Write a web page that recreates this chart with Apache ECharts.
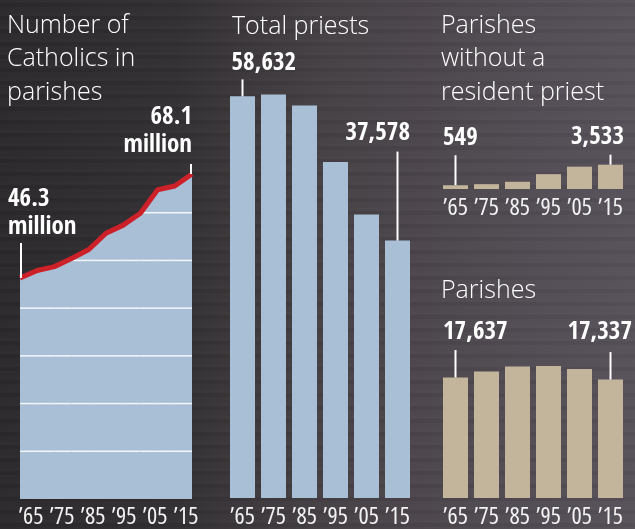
<!DOCTYPE html>
<html>
<head>
<meta charset="utf-8">
<script src="https://cdn.jsdelivr.net/npm/echarts@6.0.0/dist/echarts.min.js"></script>
<style>
  html, body {
    margin: 0;
    padding: 0;
  }
  body {
    background:
      repeating-linear-gradient(180deg, rgba(255, 255, 255, 0.02) 0 3px, rgba(0, 0, 0, 0.04) 3px 7px, rgba(255, 255, 255, 0.012) 7px 13px),
      linear-gradient(90deg, #2c292c 0%, #333033 28%, #464145 52%, #4f4950 75%, #57515a 100%);
  }
  #chart {
    width: 635px;
    height: 529px;
  }
</style>
</head>
<body>
<div id="chart"></div>
<script>
const catholicYears = ['\u201965', '\u201970', '\u201975', '\u201980', '\u201985', '\u201990', '\u201995', '\u201900', '\u201905', '\u201910', '\u201915']
const catholics = [46.3, 47.9, 48.7, 50.4, 52.3, 55.7, 57.4, 59.9, 64.8, 65.6, 68.1]
const gridLevels = [10, 20, 30, 40, 50, 60]

const barYears = ['\u201965', '\u201975', '\u201985', '\u201995', '\u201905', '\u201915']
const priests = [58632, 58909, 57317, 49054, 41399, 37578]
const noPriest = [549, 702, 1051, 2161, 3251, 3533]
const parishes = [17637, 18515, 19244, 19331, 18891, 17337]

const BLUE = '#a9bfd6'
const TAN = '#c3b59b'
const RED = '#cc2129'
const NARROW = '"Open Sans Condensed", "Open Sans", "DejaVu Sans Condensed", sans-serif'
const TITLE_FONT = '"Open Sans", "Noto Sans", sans-serif'

const chart = echarts.init(document.getElementById('chart'))

const yearLabel = {
  color: '#f2f2f2',
  fontFamily: '"Open Sans", "DejaVu Sans Condensed", sans-serif',
  fontWeight: 'normal condensed',
  fontSize: 24,
  margin: 7,
  interval: 0,
  hideOverlap: false,
  showMinLabel: true,
  showMaxLabel: true
}

function yearAxis(gridIndex, data, label) {
  return {
    type: 'category',
    gridIndex: gridIndex,
    data: data,
    axisLine: { show: false },
    axisTick: { show: false },
    axisLabel: label
  }
}

function valueAxis(gridIndex, max) {
  return { type: 'value', gridIndex: gridIndex, min: 0, max: max, show: false }
}

// leader line + label above a chosen point
function callouts(axisIndex, values, cfgs, fmt) {
  return {
    type: 'custom',
    xAxisIndex: axisIndex,
    yAxisIndex: axisIndex,
    z: 10,
    silent: true,
    clip: false,
    data: cfgs.map(c => [c.i, values[c.i]]),
    renderItem: (params, api) => {
      const c = cfgs[params.dataIndex]
      const p = api.coord([api.value(0), api.value(1)])
      const lx = p[0] + (c.lx || 0)
      const top = p[1] - c.len
      return {
        type: 'group',
        children: [
          {
            type: 'line',
            shape: { x1: lx, y1: p[1], x2: lx, y2: top },
            style: { stroke: '#ffffff', lineWidth: 2 }
          },
          {
            type: 'text',
            x: p[0] + c.dx,
            y: top - c.gap,
            style: {
              text: fmt(api.value(1)),
              fill: '#ffffff',
              font: 'bold condensed 25px ' + NARROW,
              lineHeight: 28,
              align: c.align,
              verticalAlign: 'bottom'
            }
          }
        ]
      }
    }
  }
}

const fmtMillion = v => v.toFixed(1) + '\nmillion'
const fmtInt = v => v.toLocaleString('en-US')

const option = {
  animation: false,
  backgroundColor: 'transparent',
  title: [
    { text: 'Number of\nCatholics in\nparishes', left: 7, top: 9 },
    { text: 'Total priests', left: 232, top: 10 },
    { text: 'Parishes\nwithout a\nresident priest', left: 441, top: 9 },
    { text: 'Parishes', left: 441, top: 274 }
  ].map(t => Object.assign(t, {
    padding: 0,
    textStyle: {
      color: '#ffffff',
      fontFamily: TITLE_FONT,
      fontWeight: 300,
      fontSize: 25,
      lineHeight: 33.5
    }
  })),
  grid: [
    { left: 20, top: 165, width: 172, height: 334 },
    { left: 227, top: 87, width: 186, height: 412.5 },
    { left: 440, top: 161.5, width: 186, height: 27.5 },
    { left: 440, top: 361.4, width: 186, height: 137.6 },
    // label strip under the area chart
    { left: 15.5, top: 165, width: 186, height: 334 }
  ],
  xAxis: [
    Object.assign(yearAxis(0, catholicYears, { show: false }), { boundaryGap: false }),
    yearAxis(1, barYears, yearLabel),
    yearAxis(2, barYears, yearLabel),
    yearAxis(3, barYears, yearLabel),
    yearAxis(4, barYears, yearLabel)
  ],
  yAxis: [
    valueAxis(0, 70),
    valueAxis(1, 60000),
    valueAxis(2, 4000),
    valueAxis(3, 20000),
    valueAxis(4, 1)
  ],
  series: [
    {
      type: 'line',
      xAxisIndex: 0,
      yAxisIndex: 0,
      data: catholics,
      symbol: 'none',
      clip: false,
      z: 2,
      lineStyle: { width: 0 },
      areaStyle: { color: BLUE, opacity: 1 }
    },
    {
      // white gridlines, only inside the filled area
      type: 'custom',
      xAxisIndex: 0,
      yAxisIndex: 0,
      z: 3,
      silent: true,
      clip: false,
      data: gridLevels.map(v => [0, v]),
      renderItem: (params, api) => {
        const level = api.value(1)
        const ly = api.coord([0, level])[1]
        const pts = catholics.map((v, i) => api.coord([i, v]))
        const children = []
        for (let i = 0; i < pts.length - 1; i++) {
          const a = catholics[i]
          const b = catholics[i + 1]
          if (a < level && b < level) continue
          const xa = pts[i][0]
          const xb = pts[i + 1][0]
          let x1 = xa
          let x2 = xb
          if (a < level) x1 = xa + (xb - xa) * (level - a) / (b - a)
          if (b < level) x2 = xa + (xb - xa) * (a - level) / (a - b)
          children.push({
            type: 'line',
            shape: { x1: x1, y1: ly, x2: x2, y2: ly },
            style: { stroke: '#f4f7fa', lineWidth: 1.5 }
          })
        }
        return { type: 'group', children: children }
      }
    },
    {
      type: 'line',
      xAxisIndex: 0,
      yAxisIndex: 0,
      data: catholics,
      symbol: 'none',
      clip: false,
      z: 4,
      lineStyle: { color: RED, width: 5 }
    },
    {
      type: 'bar',
      xAxisIndex: 1,
      yAxisIndex: 1,
      data: priests,
      barWidth: 25,
      itemStyle: { color: BLUE }
    },
    {
      type: 'bar',
      xAxisIndex: 2,
      yAxisIndex: 2,
      data: noPriest,
      barWidth: 25,
      itemStyle: { color: TAN }
    },
    {
      type: 'bar',
      xAxisIndex: 3,
      yAxisIndex: 3,
      data: parishes,
      barWidth: 25,
      itemStyle: { color: TAN }
    },
    callouts(0, catholics, [
      { i: 0, len: 35, gap: 2, dx: -12, lx: 1, align: 'left' },
      { i: 10, len: 10, gap: 5, dx: 0, lx: -1, align: 'right' }
    ], fmtMillion),
    callouts(1, priests, [
      { i: 0, len: 17, gap: 2, dx: -11, align: 'left' },
      { i: 5, len: 89, gap: 4, dx: 12.5, align: 'right' }
    ], fmtInt),
    callouts(2, noPriest, [
      { i: 0, len: 30, gap: 3, dx: -12.5, align: 'left' },
      { i: 5, len: 10, gap: 3, dx: 13.5, align: 'right' }
    ], fmtInt),
    callouts(3, parishes, [
      { i: 0, len: 27.5, gap: 4, dx: -12.5, align: 'left' },
      { i: 5, len: 27.5, gap: 5.5, dx: 21.5, align: 'right' }
    ], fmtInt)
  ]
}

chart.setOption(option)
</script>
</body>
</html>
